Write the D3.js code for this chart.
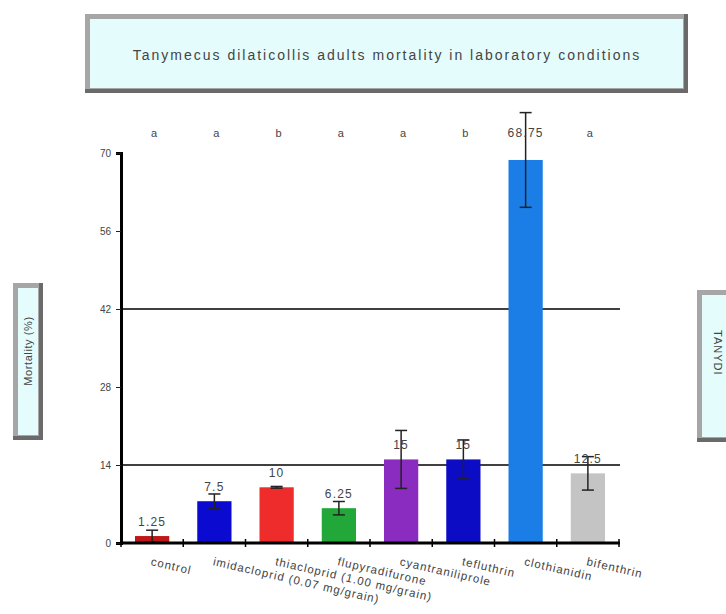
<!DOCTYPE html>
<html>
<head>
<meta charset="utf-8">
<title>Tanymecus mortality</title>
<script src="https://cdn.jsdelivr.net/npm/d3@7"></script>
<style>
  body { margin: 0; background: #fff; }
  svg text { font-family: "Liberation Sans", Arial, sans-serif; fill: #444; }
</style>
</head>
<body>
<svg id="chart" width="726" height="614"></svg>
<script>
// data
var treatments = ["control", "imidacloprid (0.07 mg/grain)", "thiacloprid (1.00 mg/grain)",
  "flupyradifurone", "cyantraniliprole", "tefluthrin", "clothianidin", "bifenthrin"];
var mortality = [1.25, 7.5, 10, 6.25, 15, 15, 68.75, 12.5];
var errors = [1.05, 1.3, 0.15, 1.2, 5.2, 3.5, 8.5, 3];
var letters = ["a", "a", "b", "a", "a", "b", "", "a"];
var barColors = ["#c01818", "#0a0ad0", "#ee2c2c", "#22a838", "#8a2cc0", "#0c0cc4", "#1a7ee6", "#c4c4c4"];
var yTicks = [0, 14, 28, 42, 56, 70];
var gridValues = [14, 42];

var svg = d3.select("#chart");

// boxed labels with grey bevel
function box(x, y, w, h) {
  svg.append("rect").attr("x", x).attr("y", y).attr("width", w).attr("height", h).attr("fill", "#6a6a6a");
  svg.append("rect").attr("x", x).attr("y", y).attr("width", w - 4).attr("height", h - 4).attr("fill", "#a6a6a6");
  svg.append("rect").attr("x", x + 5).attr("y", y + 5).attr("width", w - 10).attr("height", h - 10).attr("fill", "#e4fcfc");
}

box(85, 14, 603, 79);
svg.append("text").attr("x", 387).attr("y", 60).attr("text-anchor", "middle")
  .attr("font-size", 14).attr("letter-spacing", 2)
  .text("Tanymecus dilaticollis adults mortality in laboratory conditions");

box(13, 283, 30, 157);
svg.append("text").attr("transform", "translate(32,351) rotate(-90)").attr("text-anchor", "middle")
  .attr("font-size", 11).attr("letter-spacing", 0.6).text("Mortality (%)");

box(697, 290, 40, 152);
svg.append("text").attr("transform", "translate(714,330) rotate(90)").attr("text-anchor", "start")
  .attr("font-size", 11).attr("letter-spacing", 1).text("TANYDI");

var x = d3.scaleBand().domain(treatments).range([121, 619]).paddingInner(0.45).paddingOuter(0.225);
var y = d3.scaleLinear().domain([0, 70]).range([543, 153]);

// grid lines
svg.selectAll(".grid").data(gridValues).enter().append("line")
  .attr("x1", 121).attr("x2", 620)
  .attr("y1", function (d) { return y(d); }).attr("y2", function (d) { return y(d); })
  .attr("stroke", "#000").attr("stroke-width", 1.5);

// bars
svg.selectAll(".bar").data(treatments).enter().append("rect")
  .attr("x", function (d) { return x(d); })
  .attr("y", function (d, i) { return y(mortality[i]); })
  .attr("width", x.bandwidth())
  .attr("height", function (d, i) { return y(0) - y(mortality[i]); })
  .attr("fill", function (d, i) { return barColors[i]; });

// error bars
var eb = svg.selectAll(".err").data(treatments).enter().append("g");
function cx(d) { return x(d) + x.bandwidth() / 2; }
function hi(d, i) { return y(mortality[i] + errors[i]); }
function lo(d, i) { return y(Math.max(0, mortality[i] - errors[i])); }
eb.append("line")
  .attr("x1", cx).attr("x2", cx).attr("y1", hi).attr("y2", lo)
  .attr("stroke", "#222").attr("stroke-width", 1.5);
eb.append("line")
  .attr("x1", function (d) { return cx(d) - 6; }).attr("x2", function (d) { return cx(d) + 6; })
  .attr("y1", hi).attr("y2", hi)
  .attr("stroke", "#222").attr("stroke-width", 1.5);
eb.append("line")
  .attr("x1", function (d) { return cx(d) - 6; }).attr("x2", function (d) { return cx(d) + 6; })
  .attr("y1", lo).attr("y2", lo)
  .attr("stroke", "#222").attr("stroke-width", 1.5);

// value labels (the one without a letter sits in the letter row)
svg.selectAll(".val").data(treatments).enter().append("text")
  .attr("x", cx)
  .attr("y", function (d, i) { return letters[i] === "" ? 137 : y(mortality[i]) - 10; })
  .attr("text-anchor", "middle").attr("font-size", 12).attr("letter-spacing", 1.2)
  .text(function (d, i) { return mortality[i]; });

// significance letters
svg.selectAll(".let").data(treatments).enter().append("text")
  .attr("x", function (d) { return cx(d) + 2; })
  .attr("y", 137)
  .attr("text-anchor", "middle").attr("font-size", 11)
  .text(function (d, i) { return letters[i]; });

// y axis
var yAxis = svg.append("g").attr("transform", "translate(121,0)")
  .call(d3.axisLeft(y).tickValues(yTicks).tickSize(5).tickPadding(5));
yAxis.select(".domain").attr("stroke", "#000").attr("stroke-width", 3);
yAxis.selectAll(".tick line").attr("stroke", "#222");
yAxis.selectAll(".tick text").attr("font-size", 10).attr("fill", "#444")
  .attr("font-family", "Liberation Sans, Arial, sans-serif");

// x axis with ticks at band boundaries
svg.append("line").attr("x1", 121).attr("x2", 620).attr("y1", y(0)).attr("y2", y(0))
  .attr("stroke", "#000").attr("stroke-width", 3);
var bounds = d3.range(treatments.length + 1).map(function (i) { return 121 + i * x.step(); });
svg.selectAll(".xt").data(bounds).enter().append("line")
  .attr("x1", function (d) { return d; }).attr("x2", function (d) { return d; })
  .attr("y1", y(0) - 4).attr("y2", y(0) + 4)
  .attr("stroke", "#000").attr("stroke-width", 1.5);

// rotated category labels
svg.selectAll(".xl").data(treatments).enter().append("text")
  .attr("transform", function (d) {
    return "translate(" + (cx(d) - 2) + ",565) rotate(13)";
  })
  .attr("font-size", 11.5).attr("letter-spacing", 1)
  .text(function (d) { return d; });
</script>
</body>
</html>
